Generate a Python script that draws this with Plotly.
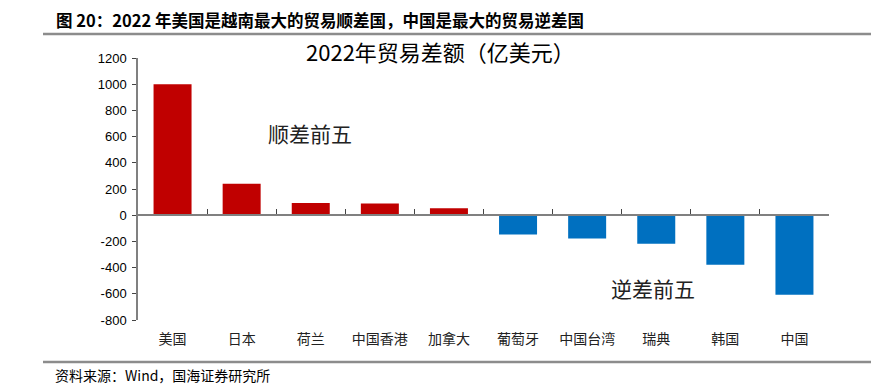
import plotly.graph_objects as go

categories = ["美国", "日本", "荷兰", "中国香港", "加拿大", "葡萄牙", "中国台湾", "瑞典", "韩国", "中国"]
balance = [1000, 241, 94, 89, 53, -148, -178, -218, -378, -607]
y_ticks = list(range(-800, 1201, 200))
y_tick_labels = [str(v) for v in y_ticks]

RED = "#C00000"
BLUE = "#0070C0"
AXIS = "#808080"
CJK = "Noto Sans CJK SC"

colors = [RED if v >= 0 else BLUE for v in balance]

fig = go.Figure()
fig.add_trace(go.Bar(
    x=categories, y=balance, marker=dict(color=colors, line=dict(width=0)),
    width=0.55, showlegend=False, hoverinfo="x+y",
))
# invisible trace to anchor the zero-level category axis
fig.add_trace(go.Scatter(x=[0], y=[0], xaxis="x2", mode="markers",
                         marker=dict(opacity=0), showlegend=False, hoverinfo="skip"))

n = len(categories)
y_lo, y_hi = y_ticks[0], y_ticks[-1]
zero_pos = (0 - y_lo) / (y_hi - y_lo)

fig.update_layout(
    width=883, height=391,
    margin=dict(l=138, r=54, t=58, b=71),
    plot_bgcolor="white", paper_bgcolor="white",
    font=dict(family=CJK, color="#000000"),
    bargap=0.45,
    xaxis=dict(
        type="category", showline=False, ticks="", showgrid=False, zeroline=False,
        tickfont=dict(family=CJK, size=14, color="#222"),
        ticklabelstandoff=9,
        range=[-0.5, n - 0.5],
    ),
    xaxis2=dict(
        overlaying="x", anchor="free", position=zero_pos, type="linear",
        range=[-0.5, n - 0.5], showline=True, linecolor=AXIS, linewidth=1.5,
        ticks="inside", ticklen=5, tickwidth=1, tickcolor="#444",
        tickvals=[i + 0.5 for i in range(n)], showticklabels=False,
        showgrid=False, zeroline=False,
    ),
    yaxis=dict(
        range=[y_lo, y_hi], tickvals=y_ticks, ticktext=y_tick_labels,
        showgrid=False, zeroline=False,
        showline=True, linecolor=AXIS, linewidth=1.5,
        ticks="outside", ticklen=4, tickcolor="#444",
        ticklabelstandoff=3,
        tickfont=dict(family="Liberation Sans, Arial", size=13, color="#000"),
    ),
)

# header, title, footer
fig.add_annotation(text="<b>图 20：2022 年美国是越南最大的贸易顺差国，中国是最大的贸易逆差国</b>",
                   xref="paper", yref="paper", x=(54 - 138) / 691, y=(320 - 20) / 262,
                   xanchor="left", yanchor="middle", showarrow=False,
                   font=dict(family=CJK, size=16.5, color="#000"))
fig.add_annotation(text="2022年贸易差额（亿美元）",
                   xref="paper", yref="paper", x=(440 - 138) / 691, y=(320 - 51) / 262,
                   xanchor="center", yanchor="middle", showarrow=False,
                   font=dict(family=CJK, size=22, color="#000"))
fig.add_annotation(text="资料来源：Wind，国海证券研究所",
                   xref="paper", yref="paper", x=(53 - 138) / 691, y=(320 - 375) / 262,
                   xanchor="left", yanchor="middle", showarrow=False,
                   font=dict(family=CJK, size=14, color="#000"))
fig.add_annotation(text="顺差前五", xref="paper", yref="paper",
                   x=(310 - 138) / 691, y=(320 - 133) / 262,
                   xanchor="center", yanchor="middle", showarrow=False,
                   font=dict(family=CJK, size=21, color="#222"))
fig.add_annotation(text="逆差前五", xref="paper", yref="paper",
                   x=(653 - 138) / 691, y=(320 - 288) / 262,
                   xanchor="center", yanchor="middle", showarrow=False,
                   font=dict(family=CJK, size=21, color="#222"))

for ypix in (34, 362):
    fig.add_shape(type="line", xref="paper", yref="paper",
                  x0=(43 - 138) / 691, x1=(871 - 138) / 691,
                  y0=(320 - ypix) / 262, y1=(320 - ypix) / 262,
                  line=dict(color="#8c8c8c", width=2.5))

fig.write_html("out.html", config={"displayModeBar": False},
               post_script="document.body.style.margin='0';document.body.style.overflow='hidden';")
